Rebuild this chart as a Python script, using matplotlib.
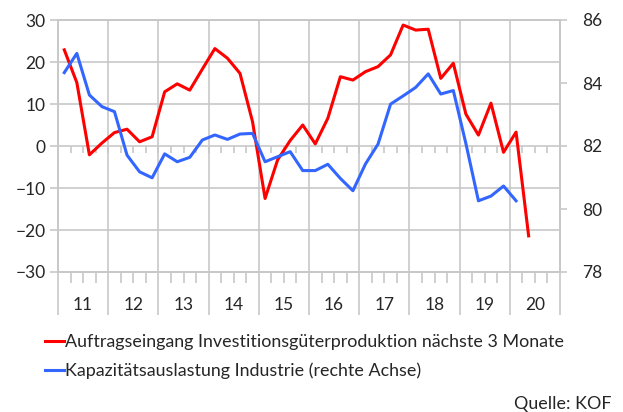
import matplotlib.pyplot as plt
import matplotlib.transforms as mtransforms
import numpy as np

plt.rcParams['font.family'] = ['Lato', 'DejaVu Sans']

# ======数据======
jahre = ['11', '12', '13', '14', '15', '16', '17', '18', '19', '20']

# Auftragseingang (linke Achse), quartalsweise 2011Q1 - 2020Q2
auftrag = [22.9, 15.1, -2.1, 0.7, 3.2, 4.0, 1.0, 2.2,
           12.9, 14.8, 13.3, 18.3, 23.2, 20.9, 17.3, 5.8,
           -12.5, -3.3, 1.3, 5.0, 0.5, 6.6, 16.5, 15.7,
           17.7, 18.9, 21.7, 28.8, 27.6, 27.8, 16.1, 19.7,
           7.6, 2.6, 10.2, -1.5, 3.3, -21.4]

# Kapazitätsauslastung (rechte Achse), 2011Q1 - 2020Q1
kapazitaet = [84.33, 84.94, 83.62, 83.25, 83.09, 81.71, 81.18, 80.99,
              81.75, 81.50, 81.64, 82.19, 82.35, 82.21, 82.38, 82.40,
              81.50, 81.66, 81.82, 81.22, 81.22, 81.42, 80.97, 80.58,
              81.43, 82.06, 83.33, 83.59, 83.86, 84.29, 83.65, 83.76,
              82.08, 80.26, 80.41, 80.73, 80.26]

label_rot = 'Auftragseingang Investitionsgüterproduktion nächste 3 Monate'
label_blau = 'Kapazitätsauslastung Industrie (rechte Achse)'

textfarbe = '#262626'
grau = '#c8c8c8'

# ======作图======
W, H = 623, 412
fig = plt.figure(figsize=(W / 100, H / 100), dpi=100)
ax = fig.add_axes([58 / W, 1 - 272 / H, (560 - 58) / W, (272 - 20) / H])
ax2 = ax.twinx()

l1, = ax.plot(np.arange(len(auftrag)), auftrag, color='#ff0000', lw=2.2,
              label=label_rot)
l2, = ax2.plot(np.arange(len(kapazitaet)), kapazitaet, color='#3366ff',
               lw=2.2, label=label_blau)

n_quartale = 4 * len(jahre)
ax.set_xlim(-0.5, n_quartale - 0.5)
ax.set_ylim(-30, 30)
ax2.set_ylim(78, 86)

# Achsen
ax.set_yticks(np.arange(-30, 31, 10))
ax2.set_yticks(np.arange(78, 87, 2))
ax.tick_params(axis='y', colors=grau, labelcolor=textfarbe, labelsize=12.5,
               length=6, width=1.2, pad=3)
ax2.tick_params(axis='y', colors=grau, labelcolor=textfarbe, labelsize=12.5,
                length=5, width=1.2, pad=11)

# x-Achse: Jahresgrenzen lang, Quartale kurz
ax.set_xticks(np.arange(-0.5, n_quartale, 4))
ax.set_xticks(np.arange(-0.5, n_quartale, 1), minor=True)
ax.tick_params(axis='x', which='major', length=31, width=1.2, colors=grau,
               labelbottom=False)
ax.tick_params(axis='x', which='minor', length=8, width=1.2, colors=grau)

# kleine Striche an der Nulllinie
nulllinie = ax.secondary_xaxis(0.5)
nulllinie.set_xticks(np.arange(-0.5, n_quartale, 1))
nulllinie.tick_params(which='both', length=5, width=1.2, colors=grau,
                      direction='in', labeltop=False, labelbottom=False)
for s in nulllinie.spines.values():
    s.set_visible(False)

# Jahresbeschriftung
trans = mtransforms.blended_transform_factory(ax.transData, ax.transAxes)
for i, j in enumerate(jahre):
    ax.text(4 * i + 1.5, -33 / 252, j, transform=trans, ha='center',
            va='center', fontsize=12.5, color=textfarbe)

# Gitter
ax.grid(True, which='major', color=grau, lw=1.2)
ax.set_axisbelow(True)
for a in (ax, ax2):
    for s in a.spines.values():
        s.set_color(grau)
        s.set_linewidth(1.2)

# Legende
fig.legend(handles=[l1, l2], loc='upper left',
           bbox_to_anchor=(38 / W, 1 - 327 / H), frameon=False,
           fontsize=12.9, handlelength=1.05, handletextpad=0.08,
           labelspacing=0.68, labelcolor=textfarbe, borderaxespad=0)

fig.text(612 / W, 1 - 404 / H, 'Quelle: KOF', ha='right', va='center',
         fontsize=12.9, color=textfarbe)

fig.savefig('out.png', dpi=100)
